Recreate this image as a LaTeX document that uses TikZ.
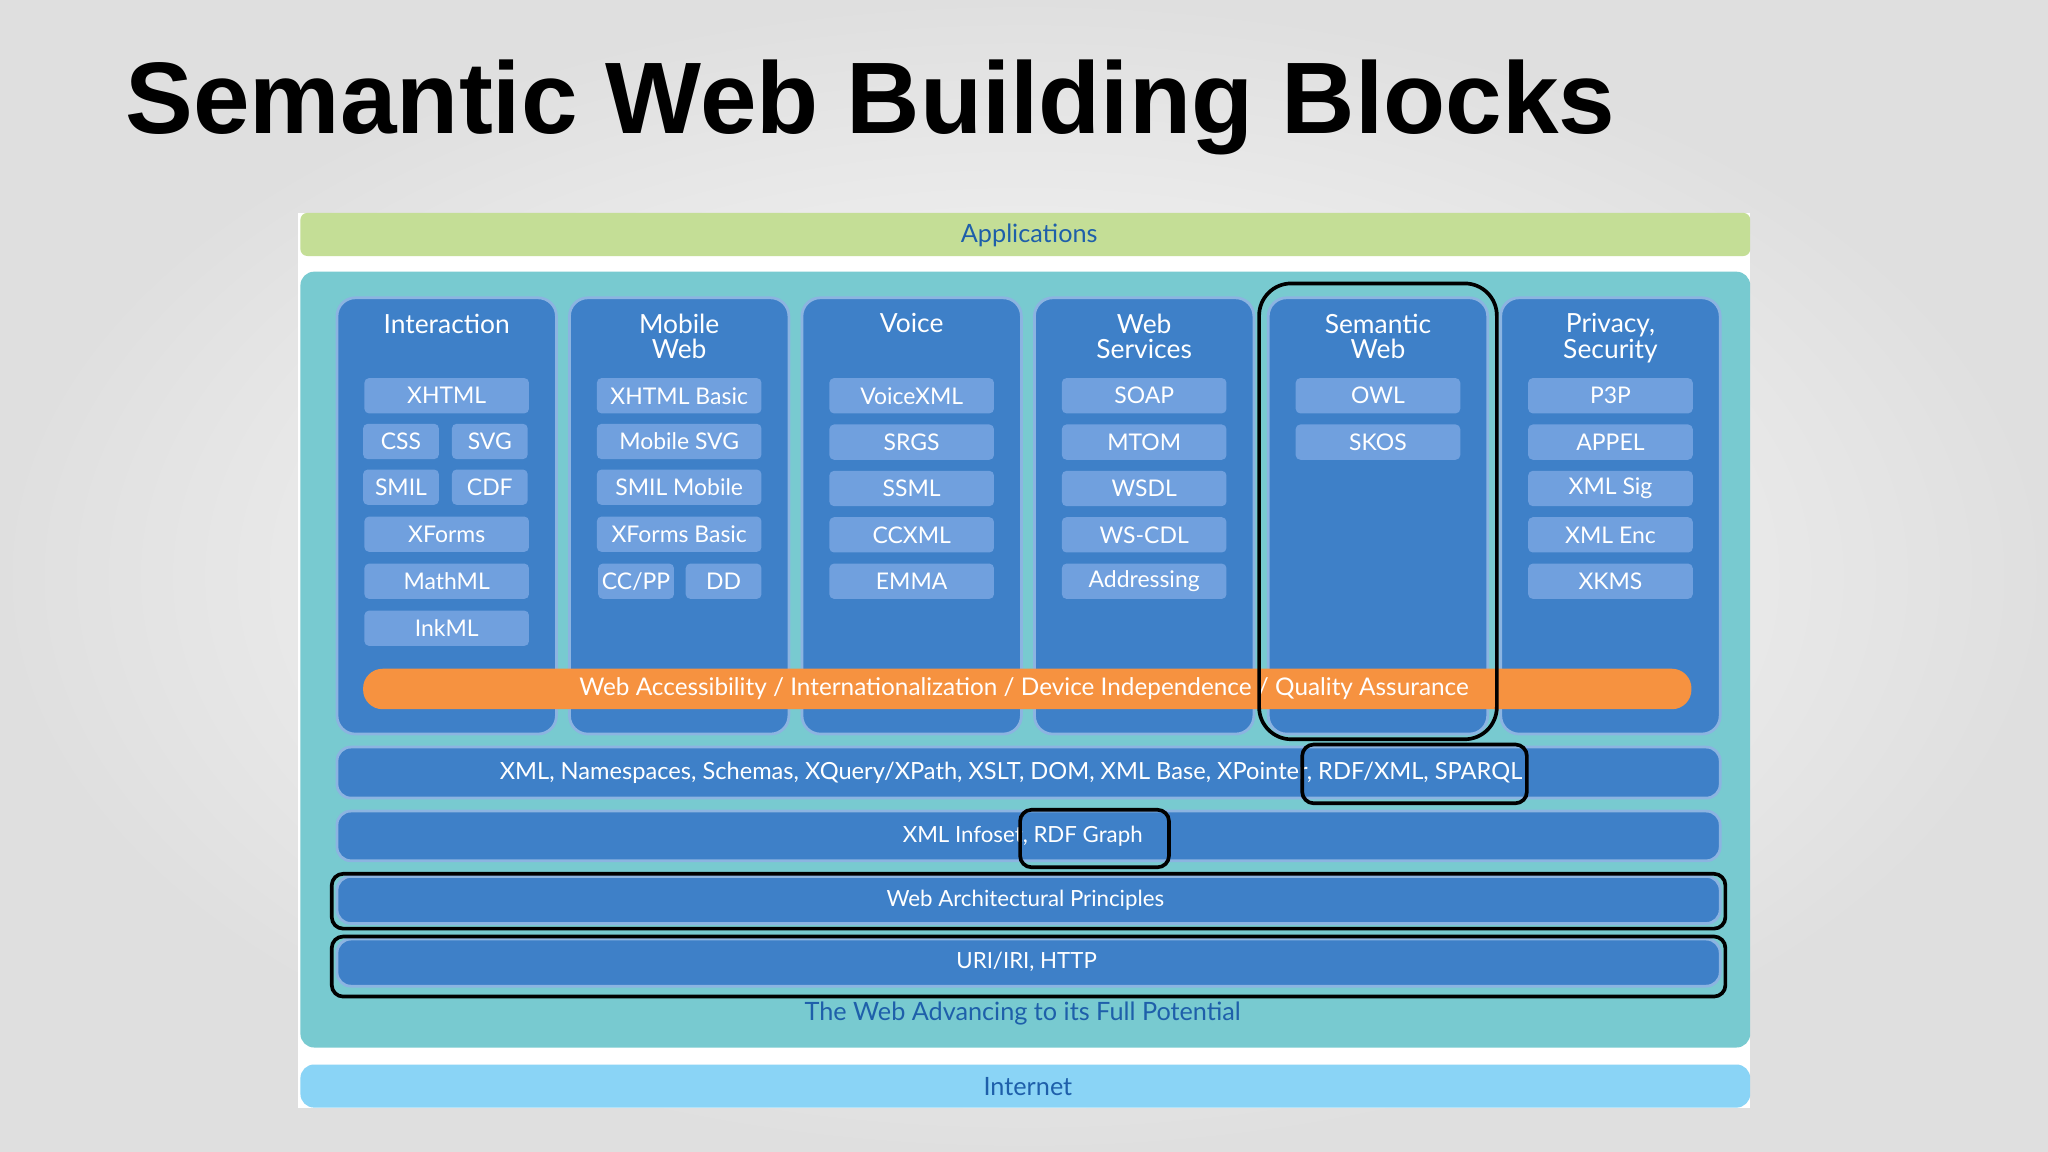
\documentclass[tikz,border=0pt]{standalone}
\usepackage{fontspec}
\setmainfont{Lato}
\newfontfamily\titlefont{Liberation Sans}
\begin{document}
\definecolor{appg}{RGB}{196,222,150}
\definecolor{teal}{RGB}{120,202,208}
\definecolor{colb}{RGB}{62,128,200}
\definecolor{colbd}{RGB}{140,180,225}
\definecolor{itemb}{RGB}{112,160,222}
\definecolor{orng}{RGB}{246,146,64}
\definecolor{netb}{RGB}{138,212,246}
\definecolor{txtb}{RGB}{30,95,170}
\begin{tikzpicture}[x=0.02cm,y=-0.02cm,
 col/.style={draw=colbd,line width=1.2pt,fill=colb,rounded corners=8pt},
 item/.style={fill=itemb,rounded corners=2pt,text=white,font=\fontsize{10}{11}\selectfont,inner sep=0pt,minimum height=27*0.02cm},
 hdr/.style={text=white,font=\fontsize{11.5}{11}\selectfont,align=center,anchor=north},
 bar/.style={col,rounded corners=6pt},
 btxt/.style={text=white,font=\fontsize{9.7}{11}\selectfont},
 wtxt/.style={text=white,font=\fontsize{10.3}{11}\selectfont},
 hl/.style={draw=black,line width=1.6pt,rounded corners=5pt}]
\shade[inner color=white,outer color=gray!25] (0,0) rectangle (1568,882);
\useasboundingbox (0,0) rectangle (1568,882);
\node[anchor=west,font=\titlefont\bfseries\fontsize{44.3}{50}\selectfont] (title) at (90,82) {Semantic Web Building Blocks};
\fill[white] (228,163) rectangle (1340,848);
\fill[appg,rounded corners=3pt] (230,163) rectangle (1340,196);
\node[text=txtb,font=\fontsize{11}{12}\selectfont] (app) at (788,180) {Applications};
\fill[teal,rounded corners=6pt] (230,208) rectangle (1340,802);
% columns
\foreach \x/\t [count=\i] in {258/Interaction,436/{Mobile\\Web},614/Voice,792/{Web\\Services},971/{Semantic\\Web},1149/{Privacy,\\Security}}{
 \draw[col] (\x,228) rectangle ++(168,334);
 \node[hdr] (h\i) at (\x+84,234) {\t};
}
% col1
\node[item,minimum width=126*0.02cm] (a1) at (342,303) {XHTML};
\node[item,minimum width=58*0.02cm] (a2) at (307,338) {CSS};
\node[item,minimum width=58*0.02cm] (a3) at (375,338) {SVG};
\node[item,minimum width=58*0.02cm] (a4) at (307,373) {SMIL};
\node[item,minimum width=58*0.02cm] (a5) at (375,373) {CDF};
\node[item,minimum width=126*0.02cm] (a6) at (342,409) {XForms};
\node[item,minimum width=126*0.02cm] (a7) at (342,445) {MathML};
\node[item,minimum width=126*0.02cm] (a8) at (342,481) {InkML};
% col2
\node[item,minimum width=126*0.02cm] (b1) at (520,303) {XHTML Basic};
\node[item,minimum width=126*0.02cm] (b2) at (520,338) {Mobile SVG};
\node[item,minimum width=126*0.02cm] (b3) at (520,373) {SMIL Mobile};
\node[item,minimum width=126*0.02cm] (b4) at (520,409) {XForms Basic};
\node[item,minimum width=58*0.02cm] (b5) at (487,445) {CC/PP};
\node[item,minimum width=58*0.02cm] (b6) at (554,445) {DD};
\foreach \t [count=\i] in {VoiceXML,SRGS,SSML,CCXML,EMMA}
 \node[item,minimum width=126*0.02cm] (c\i) at (698,267.5+35.5*\i) {\t};
\foreach \t [count=\i] in {SOAP,MTOM,WSDL,WS-CDL,Addressing}
 \node[item,minimum width=126*0.02cm] (d\i) at (876,267.5+35.5*\i) {\t};
\foreach \t [count=\i] in {OWL,SKOS}
 \node[item,minimum width=126*0.02cm] (e\i) at (1055,267.5+35.5*\i) {\t};
\foreach \t [count=\i] in {P3P,APPEL,XML Sig,XML Enc,XKMS}
 \node[item,minimum width=126*0.02cm] (f\i) at (1233,267.5+35.5*\i) {\t};
% orange
\fill[orng,rounded corners=8.5pt] (278,512) rectangle (1295,543);
\node[wtxt,font=\fontsize{10.6}{11}\selectfont] (or) at (784,527.5) {Web Accessibility / Internationalization / Device Independence / Quality Assurance};
% bars
\draw[bar] (258,572) rectangle (1317,611);
\node[wtxt] (x1) at (774,592) {XML, Namespaces, Schemas, XQuery/XPath, XSLT, DOM, XML Base, XPointer, RDF/XML, SPARQL};
\draw[bar] (258,621) rectangle (1317,659);
\node[btxt] (x2) at (783,640) {XML Infoset, RDF Graph};
\draw[bar] (258,671) rectangle (1317,707);
\node[btxt] (x3) at (785,689) {Web Architectural Principles};
\draw[bar] (258,719) rectangle (1317,755);
\node[btxt] (x4) at (786,736) {URI/IRI, HTTP};
\node[text=txtb,font=\fontsize{11}{12}\selectfont] (adv) at (783,776) {The Web Advancing to its Full Potential};
\fill[netb,rounded corners=6pt] (230,815) rectangle (1340,848);
\node[text=txtb,font=\fontsize{11}{12}\selectfont] (net) at (787,832) {Internet};
% highlights
\draw[hl,rounded corners=14pt] (964,217) rectangle (1146,566);
\draw[hl] (997,570) rectangle (1169,615);
\draw[hl] (781,620) rectangle (895,664);
\draw[hl] (254,669) rectangle (1321,711);
\draw[hl] (254,717) rectangle (1321,763);
\end{tikzpicture}
\end{document}
